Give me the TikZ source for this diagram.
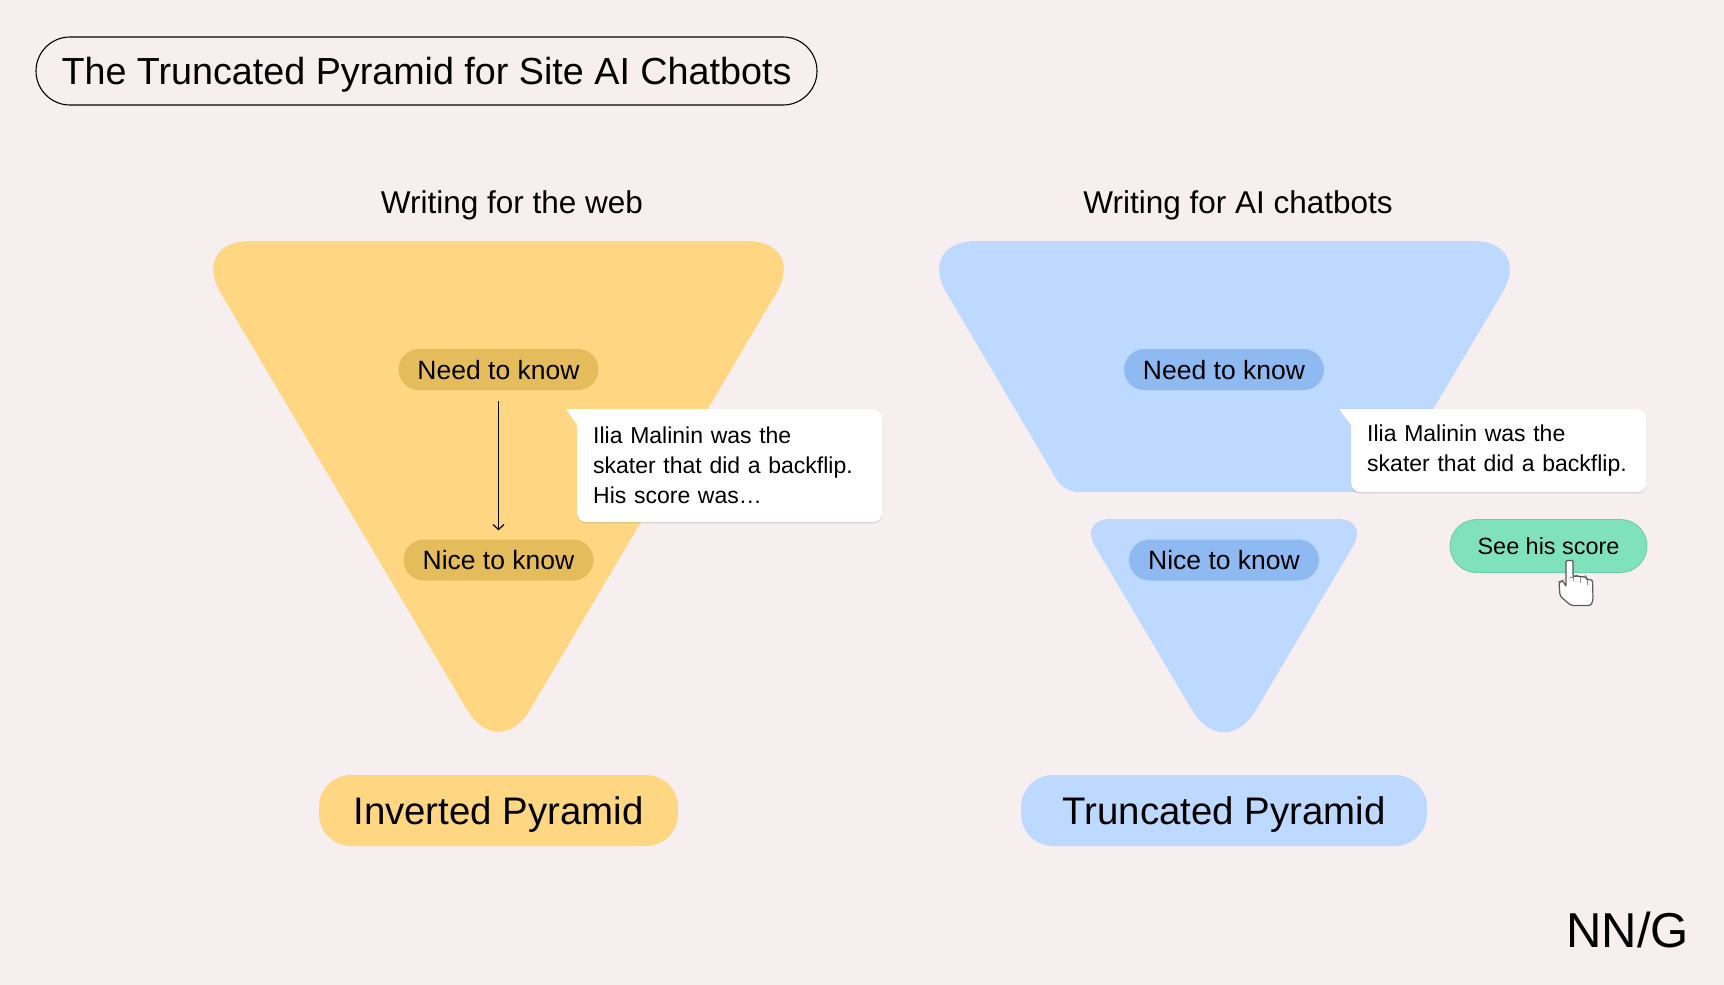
\documentclass[tikz,border=0pt]{standalone}
\usepackage{fontspec}
\setmainfont{Liberation Sans}
\usetikzlibrary{arrows.meta,shadows}

\definecolor{pagebg}{HTML}{F6EEEF}
\definecolor{webfill}{HTML}{FFD782}
\definecolor{webpill}{HTML}{E5BC5C}
\definecolor{botfill}{HTML}{BDD9FF}
\definecolor{botpill}{HTML}{8FB9F1}
\definecolor{btnfill}{HTML}{80E2BD}
\definecolor{btnedge}{HTML}{6CCBA8}

\tikzset{
    pill/.style={inner sep=0pt, text depth=0pt, align=center},
    smallpill/.style={pill, minimum height=41pt, rounded corners=20.5pt, text height=19pt,
        font=\fontsize{26.5}{30}\selectfont},
    namepill/.style={pill, minimum height=71pt, rounded corners=32pt, text height=27.5pt,
        font=\fontsize{38.4}{44}\selectfont},
    heading/.style={pill, text height=22.5pt, font=\fontsize{31.5}{36}\selectfont},
    bubble/.style={fill=white, rounded corners=9pt, anchor=north west, align=left,
        inner xsep=16pt, inner ysep=0pt, text width=273pt, minimum width=305pt,
        font=\fontsize{23}{30}\selectfont,
        drop shadow={shadow xshift=0pt, shadow yshift=-1.2pt, opacity=.12, fill=black}},
}

\begin{document}
\begin{tikzpicture}[x=1pt, y=-1pt]
\fill[pagebg] (0,0) rectangle (1724,985);
\useasboundingbox (0,0) rectangle (1724,985);

\node[pill, draw=black, line width=1.1pt, minimum width=781pt, minimum height=68pt, text height=27pt,
    rounded corners=34pt, font=\fontsize{37.7}{42}\selectfont] (title) at (426.5,71)
    {The Truncated Pyramid for Site AI Chatbots};

\node[heading] (headweb) at (512,202) {Writing for the web};
\node[heading] (headbot) at (1238,202) {Writing for AI chatbots};

% Pyramids, sharp corners given, rounding done by TikZ
\fill[webfill, rounded corners=60pt] (190,241) -- (807,241)
    [rounded corners=62pt] -- (498.5,763) [rounded corners=60pt] -- cycle;
\fill[botfill, rounded corners=60pt] (916,241) -- (1533,241)
    [rounded corners=14pt] -- (1384,492) -- (1064,492) [rounded corners=60pt] -- cycle;
\fill[botfill, rounded corners=31pt] (1079,519) -- (1369,519)
    [rounded corners=63pt] -- (1224,764) [rounded corners=31pt] -- cycle;

\foreach \side/\cx/\pillcol in {web/498.5/webpill, bot/1224/botpill} {
    \node[smallpill, fill=\pillcol, minimum width=200pt] (need\side) at (\cx,369.5) {Need to know};
    \node[smallpill, fill=\pillcol, minimum width=190pt] (nice\side) at (\cx,560) {Nice to know};
}

\draw[-{Straight Barb[length=5pt, width=11pt]}, line width=1.2pt, shorten <=11pt, shorten >=9pt]
    (needweb) -- (niceweb);

% Speech bubbles
\node[bubble, minimum height=113pt] (bubbleweb) at (577,409)
    {Ilia Malinin was the\\skater that did a backflip.\\His score was…\vspace{1pt}};
\fill[white] (bubbleweb.north west) ++(0,16) -- ++(-11,-16) -- ++(30,0) -- cycle;

\node[bubble, minimum height=83pt, minimum width=295pt, text width=263pt] (bubblebot) at (1351,409)
    {Ilia Malinin was the\\skater that did a backflip.};
\fill[white] (bubblebot.north west) ++(0,16) -- ++(-12,-16) -- ++(30,0) -- cycle;

\node[pill, fill=btnfill, draw=btnedge, line width=.8pt, minimum width=197pt, minimum height=53pt, text height=16.8pt,
    rounded corners=26.5pt, font=\fontsize{23.4}{30}\selectfont] (btnscore) at (1548.5,546) {See his score};

% Hand cursor
\draw[fill=white, draw=black!65, line width=1.2pt, rounded corners=2.5pt]
    (1566,587) -- (1566,564) .. controls (1566,560) and (1573,560) .. (1573,564)
    -- (1573,577) -- (1576,575.5) -- (1580,577) -- (1586,576.5) -- (1587,580)
    -- (1592.5,579.5) -- (1593,600) -- (1591,605.5) -- (1571,605.5) -- (1560,596)
    -- (1559,582) -- (1563,580.5) -- cycle;
\draw[black!45, line width=1pt] (1573,577) -- (1573,581) (1580,577) -- (1580,583) (1587,580) -- (1587,585);

\node[namepill, fill=webfill, minimum width=359pt] (nameweb) at (498.5,810.5) {Inverted Pyramid};
\node[namepill, fill=botfill, minimum width=406pt] (namebot) at (1224,810.5) {Truncated Pyramid};

\node[pill, text height=35pt, font=\fontsize{49}{52}\selectfont] (logo) at (1627.5,929.5) {NN/G};
\end{tikzpicture}
\end{document}
